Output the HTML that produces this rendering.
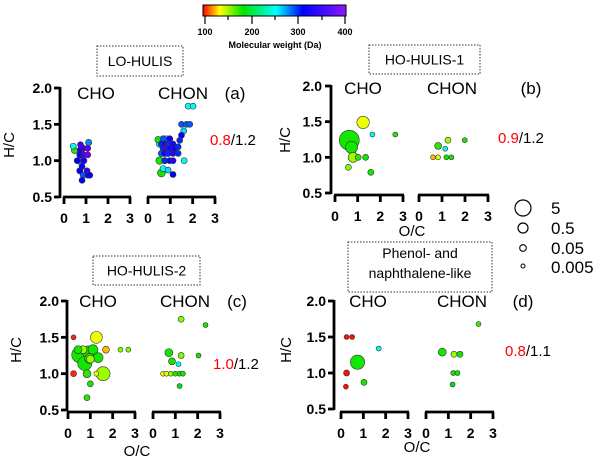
<!DOCTYPE html>
<html><head><meta charset="utf-8"><style>
body{margin:0;background:#fff}
svg{display:block;font-family:"Liberation Sans",sans-serif}
</style></head><body>
<svg id="fig" width="600" height="463" viewBox="0 0 600 463">
<defs>
<linearGradient id="mwgrad" x1="0" x2="1" y1="0" y2="0">
<stop offset="0" stop-color="hsl(0,100%,50%)"/>
<stop offset="0.117" stop-color="hsl(60,100%,50%)"/>
<stop offset="0.28" stop-color="hsl(120,100%,45%)"/>
<stop offset="0.513" stop-color="hsl(180,100%,50%)"/>
<stop offset="0.697" stop-color="hsl(240,100%,50%)"/>
<stop offset="1" stop-color="hsl(270,100%,55%)"/>
</linearGradient>
</defs>
<g>
<rect x="203" y="5" width="143" height="11" fill="url(#mwgrad)" stroke="#000" stroke-width="1"/>
<g stroke="#000" stroke-width="1.2">
<line x1="205" y1="16" x2="205" y2="24"/><line x1="228" y1="16" x2="228" y2="20"/><line x1="252" y1="16" x2="252" y2="24"/><line x1="275" y1="16" x2="275" y2="20"/><line x1="298" y1="16" x2="298" y2="24"/><line x1="322" y1="16" x2="322" y2="20"/><line x1="345" y1="16" x2="345" y2="24"/>
</g>
<g font-size="9" font-weight="bold" text-anchor="middle">
<text x="205" y="35">100</text><text x="252" y="35">200</text><text x="298" y="35">300</text><text x="345" y="35">400</text>
</g>
<text x="275" y="48" font-size="9" font-weight="bold" text-anchor="middle">Molecular weight (Da)</text>
</g>
<g font-size="17">
<circle cx="523" cy="208" r="8" fill="#fff" stroke="#000" stroke-width="1.2"/><text x="551" y="214">5</text>
<circle cx="523" cy="228" r="5" fill="#fff" stroke="#000" stroke-width="1.2"/><text x="551" y="234">0.5</text>
<circle cx="523" cy="248" r="3.3" fill="#fff" stroke="#000" stroke-width="1.1"/><text x="551" y="254">0.05</text>
<circle cx="523" cy="266" r="2" fill="#fff" stroke="#000" stroke-width="1"/><text x="551" y="273">0.005</text>
</g>
<g id="panels"></g>
</svg>
<script>
// Panel data: [O/C, H/C, molecular weight (Da), relative abundance]
const aCHO = [[.42,1.2,250,.04],[.48,1.14,175,.05],[.75,1.15,320,.05],[.87,1.17,350,.05],[1.08,1.17,380,.04],[1.12,1.25,280,.05],[.72,1.08,320,.05],[.9,1.08,360,.04],[1.08,1.08,390,.04],[.72,1.0,280,.12],[.9,1.0,330,.05],[.82,.92,320,.04],[.72,.86,310,.05],[1.05,.86,340,.04],[.87,.8,290,.04],[1.08,.8,320,.04],[1.17,.8,310,.04],[.82,.73,310,.04],[.6,1.0,310,.04],[.75,1.22,350,.04]];
const aCHON = [[1.8,1.75,250,.04],[2.02,1.75,250,.04],[1.5,1.5,290,.04],[1.72,1.5,290,.04],[1.87,1.5,290,.04],[1.6,1.41,260,.04],[1.5,1.35,310,.04],[1.42,1.28,300,.04],[.45,1.29,180,.05],[.68,1.3,290,.05],[.82,1.29,250,.12],[.97,1.3,320,.05],[.6,1.23,300,.05],[.75,1.23,320,.05],[.9,1.23,300,.05],[1.12,1.23,330,.04],[.52,1.23,250,.06],[.68,1.17,300,.05],[.82,1.17,360,.05],[1.0,1.17,330,.05],[1.2,1.17,310,.04],[.6,1.1,290,.05],[.75,1.1,320,.05],[.9,1.1,300,.05],[1.12,1.1,340,.04],[1.35,1.1,300,.04],[.52,1.0,180,.12],[.75,1.0,300,.05],[.97,1.0,320,.04],[1.12,1.0,330,.04],[1.62,1.0,250,.04],[1.35,1.19,300,.04],[.68,.89,250,.05],[.9,.87,260,.04],[.6,.83,180,.15],[1.12,.81,310,.04]];
const bCHO = [[1.24,1.49,138,1.5],[.63,1.24,180,16],[.73,1.14,180,1.3],[.8,1.0,155,.5],[1.02,1.0,175,.04],[1.35,1.0,180,.04],[1.65,1.32,250,.015],[2.66,1.32,175,.015],[.59,.86,160,.04],[1.58,.79,180,.04]];
const bCHON = [[.61,1.0,125,.015],[.83,1.0,140,.015],[1.19,1.0,180,.015],[1.41,1.0,180,.015],[.83,1.16,175,.08],[1.14,1.12,250,.015],[1.26,1.24,155,.04],[1.99,1.24,180,.015]];
const cCHO = [[.25,1.5,105,.015],[.25,1.0,105,.04],[1.27,1.5,138,1.2],[1.7,1.33,125,.08],[2.35,1.33,160,.015],[2.7,1.33,160,.015],[.67,1.33,155,.16],[.52,1.26,180,5],[.9,1.3,180,1.2],[1.12,1.33,180,.5],[.75,1.14,180,2.7],[.97,1.21,175,.5],[1.35,1.22,180,.5],[1.0,1.2,155,.16],[.85,1.0,175,.16],[1.27,1.0,138,.015],[1.57,1.0,155,2.7],[1.0,.86,180,.04],[.85,.67,175,.04],[.45,1.33,180,.16]];
const cCHON = [[1.26,1.75,160,.04],[2.35,1.67,180,.015],[.71,1.29,180,.16],[1.26,1.25,160,.04],[.85,1.17,180,.08],[1.14,1.13,250,.015],[2.04,1.25,180,.015],[.45,1.0,140,.015],[.6,1.0,140,.015],[.8,1.0,155,.015],[1.0,1.0,175,.015],[1.19,1.0,180,.015],[1.34,1.0,180,.015],[1.19,.83,185,.015]];
const dCHO = [[.25,1.5,102,.015],[.5,1.5,102,.015],[.25,1.0,102,.04],[.22,.81,102,.015],[.74,1.15,180,3],[1.03,.87,180,.04],[1.69,1.34,250,.015]];
const dCHON = [[.73,1.29,180,.16],[1.25,1.26,155,.04],[1.52,1.26,180,.04],[1.22,1.0,180,.015],[1.41,1.0,180,.015],[1.19,.84,185,.015],[2.35,1.68,170,.015]];
const yTicks = ["0.5","1.0","1.5","2.0"];
const xTicks = ["0","1","2","3"];
const ratioRed = ["0.8","0.9","1.0","0.8"];
const ratioBlack = ["/1.2","/1.2","/1.2","/1.1"];
const titles = [["LO-HULIS"],["HO-HULIS-1"],["HO-HULIS-2"],["Phenol- and","naphthalene-like"]];
const tags = ["(a)","(b)","(c)","(d)"];

const NS = "http://www.w3.org/2000/svg";
function mk(tag, attrs, parent, txt){const e=document.createElementNS(NS,tag);for(const k in attrs)e.setAttribute(k,attrs[k]);if(txt!==undefined)e.textContent=txt;parent.appendChild(e);return e;}
function mwColor(mw){const s=[[100,0],[135,60],[184,120],[254,180],[309,240],[400,270]];let h=270;for(let i=0;i<s.length-1;i++){if(mw<=s[i+1][0]){const t=Math.max(0,(mw-s[i][0])/(s[i+1][0]-s[i][0]));h=s[i][1]+t*(s[i+1][1]-s[i][1]);break;}}return "hsl("+h.toFixed(0)+",100%,"+(h>100&&h<140?"45%":"50%")+")";}
function rSize(v){return 5.74*Math.pow(v,0.2);}

const layouts = [
 {yx:60,y2:88,y05:197,ay:197,cho:[64,130],chon:[148,215],tl:52,box:[97,46,86,30],ch:[96,183,235,99],ratio:[210,145],hc:[14,145],oc:null},
 {yx:331,y2:86,y05:193,ay:195,cho:[335,403],chon:[419,488],tl:322,box:[369,45,111,29],ch:[363,452,531,94],ratio:[498,143],hc:[290,140],oc:[412,236]},
 {yx:67,y2:301,y05:410,ay:412,cho:[68,135],chon:[153,220],tl:59,box:[93,256,107,29],ch:[98,185,237,307],ratio:[213,369],hc:[21,350],oc:[137,456]},
 {yx:334,y2:301,y05:409,ay:412,cho:[341,408],chon:[426,493],tl:326,box:[348,242,144,50],ch:[368,462,523,307],ratio:[505,356],hc:[291,350],oc:[417,452]}
];
const series = [[aCHO,aCHON],[bCHO,bCHON],[cCHO,cCHON],[dCHO,dCHON]];
const names=["a","b","c","d"];
const root=document.getElementById("panels");
layouts.forEach((L,pi)=>{
 const g=mk("g",{},root);
 
 
 const yS=v=>L.y05+(v-0.5)/1.5*(L.y2-L.y05);
 const bx=mk("g",{},g);
 
 
 mk("rect",{x:L.box[0],y:L.box[1],width:L.box[2],height:L.box[3],fill:"#fff",stroke:"#333","stroke-width":1,"stroke-dasharray":"1.5,1.5"},bx);
 const tl=titles[pi];
 tl.forEach((t,i)=>mk("text",{x:L.box[0]+L.box[2]/2,y:L.box[1]+(tl.length==1?L.box[3]/2+5:16+i*20),"font-size":14,"text-anchor":"middle"},bx,t));
 const ya=mk("g",{stroke:"#000","stroke-width":2.8,fill:"none"},g);
 
 
 mk("line",{x1:L.yx,y1:yS(2.0)-1,x2:L.yx,y2:yS(0.5)+1},ya);
 yTicks.forEach(t=>{const y=yS(parseFloat(t));mk("line",{x1:L.yx-6,y1:y,x2:L.yx,y2:y},ya);
  mk("text",{x:L.tl,y:y+5,"font-size":14,"font-weight":"bold","text-anchor":"end",fill:"#000",stroke:"none"},g,t);});
 const hc=mk("text",{x:L.hc[0],y:L.hc[1],"font-size":15,"text-anchor":"middle",transform:"rotate(-90 "+L.hc[0]+" "+L.hc[1]+")"},g,"H/C");
 
 
 [["cho",L.cho,"CHO",L.ch[0]],["chon",L.chon,"CHON",L.ch[1]]].forEach((sp,si)=>{
  const [x0,x3]=sp[1];const xS=v=>x0+v/3*(x3-x0);
  const xa=mk("g",{stroke:"#000","stroke-width":2.8},g);
  
  
  mk("line",{x1:x0-1,y1:L.ay,x2:x3+1,y2:L.ay},xa);
  xTicks.forEach(t=>{const x=xS(parseFloat(t));mk("line",{x1:x,y1:L.ay,x2:x,y2:L.ay+7},xa);
   mk("text",{x:x,y:L.ay+26,"font-size":14,"font-weight":"bold","text-anchor":"middle",stroke:"none"},g,t);});
  const lab=mk("text",{x:sp[3],y:L.ch[3],"font-size":17,"text-anchor":"middle"},g,sp[2]);
  
  
  const data=series[pi][si].slice().sort((a,b)=>b[3]-a[3]);
  data.forEach(d=>{
   const c=mk("circle",{cx:xS(d[0]),cy:yS(d[1]),r:rSize(d[3]),fill:mwColor(d[2]),stroke:"#333","stroke-width":0.6},g);
   
   
  });
 });
 mk("text",{x:L.ch[2],y:L.ch[3],"font-size":17,"text-anchor":"middle"},g,tags[pi]);
 const rt=mk("text",{x:L.ratio[0],y:L.ratio[1],"font-size":15},g);
 
 
 mk("tspan",{fill:"#ff0000"},rt,ratioRed[pi]);
 mk("tspan",{fill:"#000"},rt,ratioBlack[pi]);
 if(L.oc){const oc=mk("text",{x:L.oc[0],y:L.oc[1],"font-size":15,"text-anchor":"middle"},g,"O/C");
  
  }
});
</script>
</body></html>
